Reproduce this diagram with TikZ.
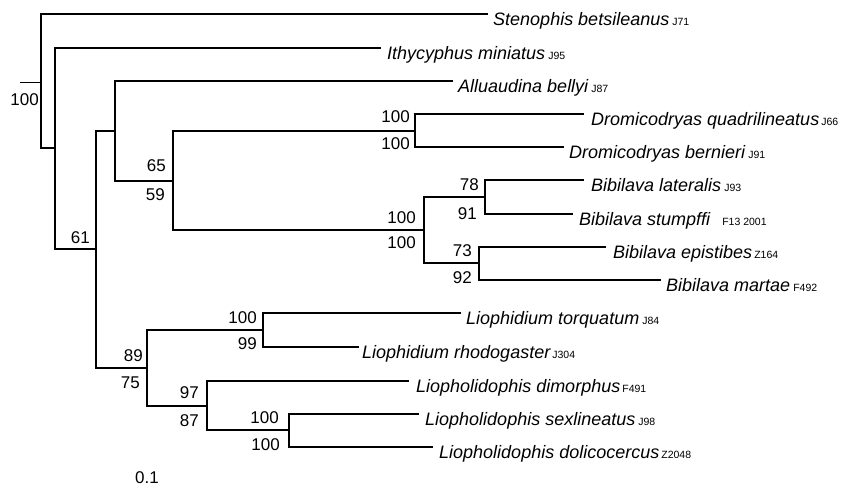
\documentclass[tikz,border=0pt]{standalone}
\usepackage{fontspec}
\setmainfont{Liberation Sans}
\newcommand\spcode[1]{{\fontsize{10.5}{12}\selectfont\upshape #1}}
\begin{document}
\begin{tikzpicture}[x=1pt,y=-1pt,
  br/.style={line width=1.4pt, line join=miter, line cap=rect},
  stub/.style={line width=0.8pt},
  sp/.style={anchor=base west, inner sep=0pt, font=\fontsize{18}{20}\selectfont\itshape},
  bs/.style={anchor=base east, inner sep=0pt, font=\fontsize{17}{19}\selectfont}]
\useasboundingbox (0,0) rectangle (842,491);
% internal nodes
\coordinate (rs) at (20,82);
\coordinate (r) at (41,82);
\coordinate (n1) at (55,148);
\coordinate (n2) at (96,249);
\coordinate (n3) at (115,131);
\coordinate (n4) at (173,181);
\coordinate (n5) at (415,131);
\coordinate (n6) at (424,230);
\coordinate (n7) at (485,197);
\coordinate (n8) at (479,263);
\coordinate (n9) at (147,368);
\coordinate (n10) at (263,330);
\coordinate (n11) at (207,406);
\coordinate (n12) at (289,430);
% tips
\coordinate (tA) at (487,14);
\coordinate (tB) at (380,48);
\coordinate (tC) at (452,81);
\coordinate (tD) at (583,114);
\coordinate (tE) at (563,147);
\coordinate (tF) at (583,180);
\coordinate (tG) at (572,214);
\coordinate (tH) at (605,247);
\coordinate (tI) at (660,280);
\coordinate (tJ) at (460,313);
\coordinate (tK) at (358,347);
\coordinate (tL) at (408,381);
\coordinate (tM) at (418,414);
\coordinate (tN) at (432,447);
% branches
\draw[stub] (rs) -- (r);
\draw[br] (r) |- (tA);
\draw[br] (r) |- (n1);
\draw[br] (n1) |- (tB);
\draw[br] (n1) |- (n2);
\draw[br] (n2) |- (n3);
\draw[br] (n2) |- (n9);
\draw[br] (n3) |- (tC);
\draw[br] (n3) |- (n4);
\draw[br] (n4) |- (n5);
\draw[br] (n4) |- (n6);
\draw[br] (n5) |- (tD);
\draw[br] (n5) |- (tE);
\draw[br] (n6) |- (n7);
\draw[br] (n6) |- (n8);
\draw[br] (n7) |- (tF);
\draw[br] (n7) |- (tG);
\draw[br] (n8) |- (tH);
\draw[br] (n8) |- (tI);
\draw[br] (n9) |- (n10);
\draw[br] (n9) |- (n11);
\draw[br] (n10) |- (tJ);
\draw[br] (n10) |- (tK);
\draw[br] (n11) |- (tL);
\draw[br] (n11) |- (n12);
\draw[br] (n12) |- (tM);
\draw[br] (n12) |- (tN);
% taxon labels
\node[sp] (lA) at ([shift={(6,11)}]tA) {Stenophis betsileanus\hspace{3pt}\spcode{J71}};
\node[sp] (lB) at ([shift={(7,11)}]tB) {Ithycyphus miniatus\hspace{3pt}\spcode{J95}};
\node[sp] (lC) at ([shift={(6,11)}]tC) {Alluaudina bellyi\hspace{3pt}\spcode{J87}};
\node[sp] (lD) at ([shift={(8,11)}]tD) {Dromicodryas quadrilineatus\hspace{2pt}\spcode{J66}};
\node[sp] (lE) at ([shift={(6,11)}]tE) {Dromicodryas bernieri\hspace{3pt}\spcode{J91}};
\node[sp] (lF) at ([shift={(8,11)}]tF) {Bibilava lateralis\hspace{3pt}\spcode{J93}};
\node[sp] (lG) at ([shift={(7,11)}]tG) {Bibilava stumpffi\hspace{12pt}\spcode{F13 2001}};
\node[sp] (lH) at ([shift={(8,11)}]tH) {Bibilava epistibes\hspace{2pt}\spcode{Z164}};
\node[sp] (lI) at ([shift={(6,11)}]tI) {Bibilava martae\hspace{3pt}\spcode{F492}};
\node[sp] (lJ) at ([shift={(6,11)}]tJ) {Liophidium torquatum\hspace{3pt}\spcode{J84}};
\node[sp] (lK) at ([shift={(4,11)}]tK) {Liophidium rhodogaster\hspace{2pt}\spcode{J304}};
\node[sp] (lL) at ([shift={(8,11)}]tL) {Liopholidophis dimorphus\hspace{2pt}\spcode{F491}};
\node[sp] (lM) at ([shift={(7,11)}]tM) {Liopholidophis sexlineatus\hspace{3pt}\spcode{J98}};
\node[sp] (lN) at ([shift={(7,11)}]tN) {Liopholidophis dolicocercus\hspace{2pt}\spcode{Z2048}};
% support values
\node[bs] (b0) at (39,105) {100};
\node[bs] (b1) at (90,243) {61};
\node[bs] (b2) at (166,171) {65};
\node[bs] (b3) at (165,200) {59};
\node[bs] (b4) at (410,122) {100};
\node[bs] (b5) at (410,149) {100};
\node[bs] (b6) at (416,223) {100};
\node[bs] (b7) at (416,248) {100};
\node[bs] (b8) at (479,190) {78};
\node[bs] (b9) at (477,219) {91};
\node[bs] (b10) at (472,256) {73};
\node[bs] (b11) at (472,283) {92};
\node[bs] (b12) at (143,361) {89};
\node[bs] (b13) at (140,388) {75};
\node[bs] (b14) at (257,323) {100};
\node[bs] (b15) at (257,349) {99};
\node[bs] (b16) at (199,398) {97};
\node[bs] (b17) at (199,426) {87};
\node[bs] (b18) at (279,423) {100};
\node[bs] (b19) at (280,450) {100};
\node[bs] (sc) at (159,483) {0.1};
\end{tikzpicture}
\end{document}
